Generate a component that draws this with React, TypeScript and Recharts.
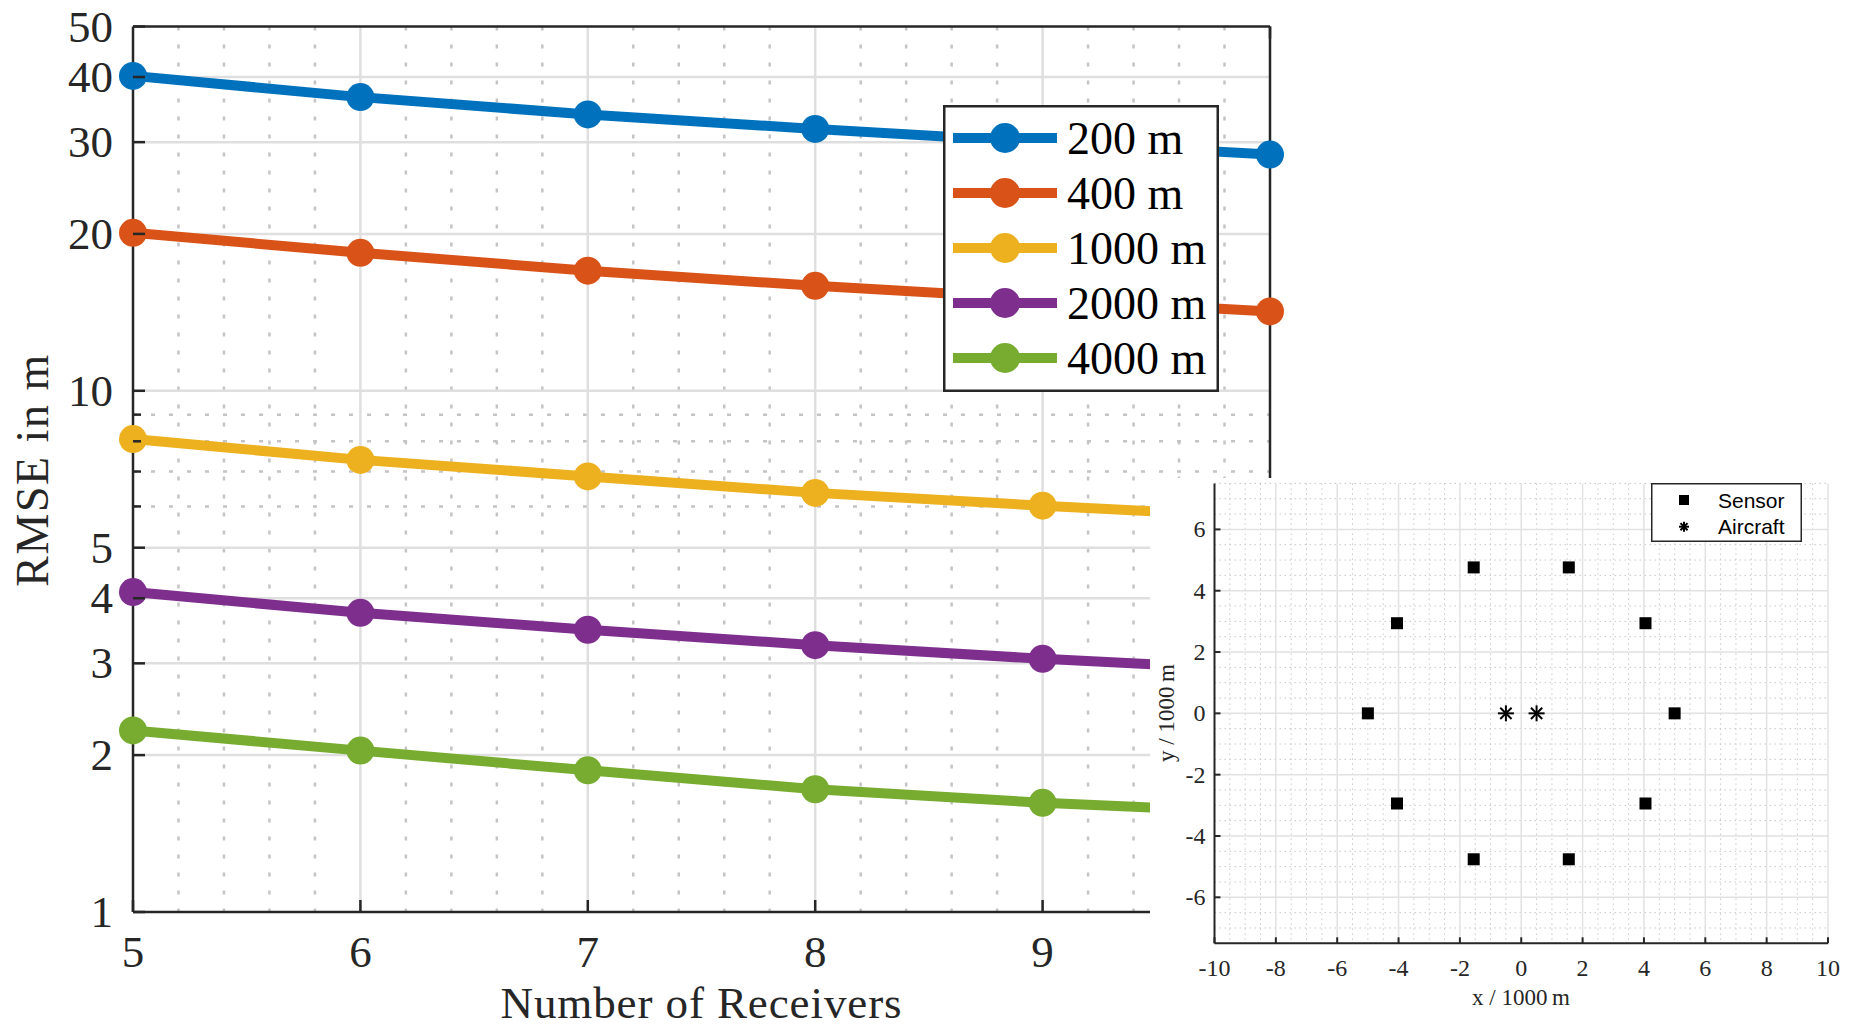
import React from 'react';
import {
  LineChart,
  Line,
  ScatterChart,
  Scatter,
  XAxis,
  YAxis,
  CartesianGrid,
  Legend,
} from 'recharts';

// RMSE vs. number of receivers, one series per aircraft distance
const receivers = [5, 6, 7, 8, 9, 10];
const rmse200 = [40.2, 36.6, 33.9, 31.8, 30.0, 28.4];
const rmse400 = [20.1, 18.4, 17.0, 15.9, 15.0, 14.2];
const rmse1000 = [8.08, 7.37, 6.85, 6.37, 6.02, 5.72];
const rmse2000 = [4.11, 3.75, 3.48, 3.25, 3.06, 2.91];
const rmse4000 = [2.23, 2.04, 1.87, 1.72, 1.62, 1.55];

const seriesKeys = ['r200', 'r400', 'r1000', 'r2000', 'r4000'];
const seriesNames = ['200 m', '400 m', '1000 m', '2000 m', '4000 m'];
const seriesColors = ['#0072BD', '#D95319', '#EDB120', '#7E2F8E', '#77AC30'];

const xTicks = [5, 6, 7, 8, 9, 10];
const xLabeled = [5, 6, 7, 8, 9]; // 10 sits under the inset
const yTicks = [1, 2, 3, 4, 5, 6, 7, 8, 9, 10, 20, 30, 40, 50];
const yMinor = [6, 7, 8, 9];
const yMajorGrid = [2, 3, 4, 5, 10, 20, 30, 40];

// sensor layout (units of 1000 m)
const sensorX = [5, 4.05, 1.55, -1.55, -4.05, -5, -4.05, -1.55, 1.55, 4.05];
const sensorY = [0, 2.94, 4.76, 4.76, 2.94, 0, -2.94, -4.76, -4.76, -2.94];
const aircraftX = [-0.5, 0.5];
const aircraftY = [0, 0];

const insetXTicks = [-10, -8, -6, -4, -2, 0, 2, 4, 6, 8, 10];
const insetYTicks = [-6, -4, -2, 0, 2, 4, 6];

const data = receivers.map((n, i) => ({
  n,
  r200: rmse200[i],
  r400: rmse400[i],
  r1000: rmse1000[i],
  r2000: rmse2000[i],
  r4000: rmse4000[i],
}));

const sensors = sensorX.map((x, i) => ({ x, y: sensorY[i] }));
const aircraft = aircraftX.map((x, i) => ({ x, y: aircraftY[i] }));

// grid helpers
const xMinorGrid: number[] = [];
for (let i = 1; i < 25; i++) if (i % 5 !== 0) xMinorGrid.push(5 + i * 0.2);

const insetMinorX: number[] = [];
for (let v = -9.5; v < 10; v += 0.5) if (v % 2 !== 0) insetMinorX.push(v);
const insetMinorY: number[] = [];
for (let v = -7.5; v <= 7.5; v += 0.5) if (v % 2 !== 0) insetMinorY.push(v);

const INK = '#262626';
const SERIF = '"Liberation Serif", "Times New Roman", serif';
const SANS = '"Liberation Sans", Arial, sans-serif';

// main axes ticks: drawn inward, labels outside
const MainLeftTick = (props: any) => {
  const { x, y, payload } = props;
  const minor = yMinor.includes(payload.value);
  return (
    <g>
      <line x1={x} x2={x + (minor ? 8 : 12)} y1={y} y2={y} stroke={INK} strokeWidth={2.5} />
      {!minor && (
        <text x={x - 20} y={y + 15} textAnchor="end" fontFamily={SERIF} fontSize={45} fill={INK}>
          {payload.value}
        </text>
      )}
    </g>
  );
};

const MainRightTick = (props: any) => {
  const { x, y, payload } = props;
  const minor = yMinor.includes(payload.value);
  return <line x1={x} x2={x - (minor ? 8 : 12)} y1={y} y2={y} stroke={INK} strokeWidth={2.5} />;
};

const MainBottomTick = (props: any) => {
  const { x, y, payload } = props;
  return (
    <g>
      <line x1={x} x2={x} y1={y} y2={y - 12} stroke={INK} strokeWidth={2.5} />
      {xLabeled.includes(payload.value) && (
        <text x={x} y={y + 55} textAnchor="middle" fontFamily={SERIF} fontSize={45} fill={INK}>
          {payload.value}
        </text>
      )}
    </g>
  );
};

const MainTopTick = (props: any) => {
  const { x, y } = props;
  return <line x1={x} x2={x} y1={y} y2={y + 12} stroke={INK} strokeWidth={2.5} />;
};

const InsetLeftTick = (props: any) => {
  const { x, y, payload } = props;
  return (
    <g>
      <line x1={x} x2={x + 6} y1={y} y2={y} stroke={INK} strokeWidth={2} />
      <text x={x - 9} y={y + 8} textAnchor="end" fontFamily={SERIF} fontSize={24} fill={INK}>
        {String(payload.value)}
      </text>
    </g>
  );
};

const InsetBottomTick = (props: any) => {
  const { x, y, payload } = props;
  return (
    <g>
      <line x1={x} x2={x} y1={y} y2={y - 6} stroke={INK} strokeWidth={2} />
      <text x={x} y={y + 33} textAnchor="middle" fontFamily={SERIF} fontSize={24} fill={INK}>
        {String(payload.value)}
      </text>
    </g>
  );
};

const SquareMark = (props: any) => {
  const { cx, cy } = props;
  return <rect x={cx - 6} y={cy - 6} width={12} height={12} fill="#000" />;
};

const Asterisk = ({ cx, cy, s }: { cx: number; cy: number; s: number }) => {
  const d = s * 0.707;
  return (
    <g stroke="#000" strokeWidth={2}>
      <line x1={cx} x2={cx} y1={cy - s} y2={cy + s} />
      <line x1={cx - s} x2={cx + s} y1={cy} y2={cy} />
      <line x1={cx - d} x2={cx + d} y1={cy - d} y2={cy + d} />
      <line x1={cx - d} x2={cx + d} y1={cy + d} y2={cy - d} />
    </g>
  );
};

const AircraftMark = (props: any) => <Asterisk cx={props.cx} cy={props.cy} s={8} />;

const MainLegend = () => (
  <svg width={276} height={287}>
    <rect x={1.25} y={1.25} width={273.5} height={284.5} fill="#fff" stroke={INK} strokeWidth={2.5} />
    {seriesNames.map((name, i) => {
      const cy = 33 + i * 55;
      return (
        <g key={name}>
          <line x1={10} x2={114} y1={cy} y2={cy} stroke={seriesColors[i]} strokeWidth={10} />
          <circle cx={62} cy={cy} r={15} fill={seriesColors[i]} />
          <text x={124} y={cy + 15.5} fontFamily={SERIF} fontSize={46} fill="#000">
            {name}
          </text>
        </g>
      );
    })}
  </svg>
);

const InsetLegend = () => (
  <svg width={151} height={59}>
    <rect x={0.75} y={0.75} width={149.5} height={57.5} fill="#fff" stroke={INK} strokeWidth={1.5} />
    <rect x={28} y={12} width={10} height={10} fill="#000" />
    <text x={67} y={24.5} fontFamily={SANS} fontSize={21} fill="#000">Sensor</text>
    <Asterisk cx={33} cy={43.7} s={5} />
    <text x={67} y={51} fontFamily={SANS} fontSize={21} fill="#000">Aircraft</text>
  </svg>
);

export default function App() {
  return (
    <div style={{ position: 'absolute', left: 0, top: 0, width: 1849, height: 1028, background: '#fff' }}>
      <div style={{ position: 'absolute', left: 0, top: 0 }}>
        <LineChart width={1300} height={1028} data={data} margin={{ top: 25.5, right: 29, bottom: 36, left: 33 }}>
          <CartesianGrid
            xAxisId="b"
            yAxisId="l"
            verticalValues={xMinorGrid}
            horizontalValues={yMinor}
            stroke="#c4c4c4"
            strokeWidth={2.5}
            strokeDasharray="4 14"
          />
          <CartesianGrid
            xAxisId="b"
            yAxisId="l"
            verticalValues={[6, 7, 8, 9]}
            horizontalValues={yMajorGrid}
            stroke="#dfdfdf"
            strokeWidth={2.5}
          />
          <XAxis
            xAxisId="b"
            dataKey="n"
            type="number"
            domain={[5, 10]}
            ticks={xTicks}
            interval={0}
            height={80}
            tickSize={0}
            tickMargin={0}
            tickLine={false}
            tick={<MainBottomTick />}
            axisLine={{ stroke: INK, strokeWidth: 2.5 }}
          />
          <XAxis
            xAxisId="t"
            orientation="top"
            type="number"
            domain={[5, 10]}
            ticks={xTicks}
            interval={0}
            height={1}
            tickSize={0}
            tickMargin={0}
            tickLine={false}
            tick={<MainTopTick />}
            axisLine={{ stroke: INK, strokeWidth: 2.5 }}
          />
          <YAxis
            yAxisId="l"
            scale="log"
            type="number"
            domain={[1, 50]}
            ticks={yTicks}
            interval={0}
            width={100}
            tickSize={0}
            tickMargin={0}
            tickLine={false}
            tick={<MainLeftTick />}
            axisLine={{ stroke: INK, strokeWidth: 2.5 }}
          />
          <YAxis
            yAxisId="r"
            orientation="right"
            scale="log"
            type="number"
            domain={[1, 50]}
            ticks={yTicks}
            interval={0}
            width={1}
            tickSize={0}
            tickMargin={0}
            tickLine={false}
            tick={<MainRightTick />}
            axisLine={{ stroke: INK, strokeWidth: 2.5 }}
          />
          {seriesKeys.map((key, i) => (
            <Line
              key={key}
              xAxisId="b"
              yAxisId="l"
              type="linear"
              dataKey={key}
              name={seriesNames[i]}
              stroke={seriesColors[i]}
              strokeWidth={10}
              dot={{ r: 14, fill: seriesColors[i], stroke: seriesColors[i], strokeWidth: 0 }}
              activeDot={false}
              isAnimationActive={false}
            />
          ))}
          <Legend
            layout="vertical"
            align="center"
            verticalAlign="middle"
            content={<MainLegend />}
            wrapperStyle={{ left: 943, top: 105, width: 276, height: 287 }}
          />
        </LineChart>
      </div>

      {/* sensor geometry inset */}
      <div style={{ position: 'absolute', left: 1150, top: 478, width: 699, height: 550, background: '#fff' }}>
        <ScatterChart width={699} height={550} margin={{ top: 5.4, right: 21, bottom: 34.7, left: 14.5 }}>
          <CartesianGrid
            verticalValues={insetMinorX}
            horizontalValues={insetMinorY}
            stroke="#c8c8c8"
            strokeWidth={1}
            strokeDasharray="1.5 3.5"
          />
          <CartesianGrid
            verticalValues={[-8, -6, -4, -2, 0, 2, 4, 6, 8, 10]}
            horizontalValues={insetYTicks}
            stroke="#e2e2e2"
            strokeWidth={1.5}
          />
          <XAxis
            type="number"
            dataKey="x"
            domain={[-10, 10]}
            ticks={insetXTicks}
            interval={0}
            height={50}
            tickSize={0}
            tickMargin={0}
            tickLine={false}
            tick={<InsetBottomTick />}
            axisLine={{ stroke: INK, strokeWidth: 2 }}
          />
          <YAxis
            type="number"
            dataKey="y"
            domain={[-7.5, 7.5]}
            ticks={insetYTicks}
            interval={0}
            width={50}
            tickSize={0}
            tickMargin={0}
            tickLine={false}
            tick={<InsetLeftTick />}
            axisLine={{ stroke: INK, strokeWidth: 2 }}
          />
          <Scatter name="Sensor" data={sensors} shape={<SquareMark />} isAnimationActive={false} />
          <Scatter name="Aircraft" data={aircraft} shape={<AircraftMark />} isAnimationActive={false} />
          <Legend
            layout="vertical"
            align="center"
            verticalAlign="middle"
            content={<InsetLegend />}
            wrapperStyle={{ left: 501, top: 5, width: 151, height: 59 }}
          />
        </ScatterChart>
      </div>

      {/* axis titles */}
      <svg
        width={1849}
        height={1028}
        style={{ position: 'absolute', left: 0, top: 0, pointerEvents: 'none' }}
      >
        <text
          x={701.5}
          y={1018}
          textAnchor="middle"
          fontFamily={SERIF}
          fontSize={45}
          letterSpacing={0.9}
          fill={INK}
        >
          Number of Receivers
        </text>
        <text
          x={48}
          y={470}
          transform="rotate(-90, 48, 470)"
          textAnchor="middle"
          fontFamily={SERIF}
          fontSize={46}
          letterSpacing={1.5}
          fill={INK}
        >
          RMSE in m
        </text>
        <text x={1521} y={1005} textAnchor="middle" fontFamily={SERIF} fontSize={23} fill={INK}>
          {'x / 1000\u2009m'}
        </text>
        <text
          x={1174}
          y={713}
          transform="rotate(-90, 1174, 713)"
          textAnchor="middle"
          fontFamily={SERIF}
          fontSize={23}
          fill={INK}
        >
          {'y / 1000\u2009m'}
        </text>
      </svg>
    </div>
  );
}
